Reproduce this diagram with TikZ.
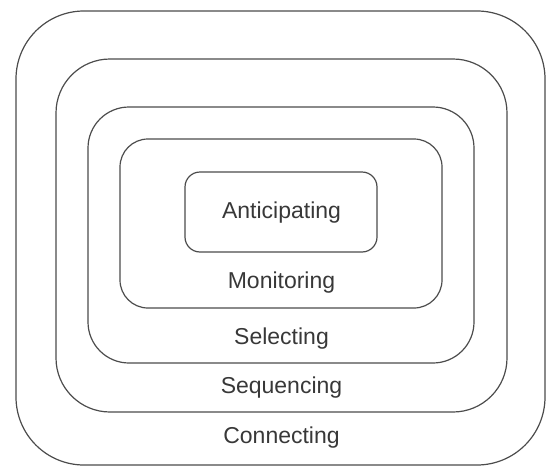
\documentclass[tikz,border=0pt]{standalone}
\usepackage{fontspec}
\setmainfont{Liberation Sans}
\usepackage{tikz}

\begin{document}
\begin{tikzpicture}[x=1pt,y=-1pt,
  ring/.style={draw=black!70, line width=1.2pt, inner sep=0pt, rectangle},
  level/.style={text=black!78, inner sep=0pt, anchor=base,
    font=\fontsize{23}{27}\selectfont}]
  \useasboundingbox (0,0) rectangle (549,466);
  % nested rounded boxes, outside in
  \node [ring, rounded corners=68pt, minimum width=529pt, minimum height=454pt] (connect) at (280.5,238) {};
  \node [ring, rounded corners=54pt, minimum width=451pt, minimum height=353pt] (sequence) at (281.5,235.5) {};
  \node [ring, rounded corners=41pt, minimum width=386pt, minimum height=256pt] (select) at (281,235) {};
  \node [ring, rounded corners=28pt, minimum width=322pt, minimum height=169pt] (monitor) at (281,223.5) {};
  \node [ring, rounded corners=15pt, minimum width=192pt, minimum height=80pt] (anticipate) at (281,212) {};
  % labels
  \node [level] (anticipatetext) at (281.5,218) {Anticipating};
  \node [level] (monitortext) at (281.5,288) {Monitoring};
  \node [level] (selecttext) at (281.5,344) {Selecting};
  \node [level] (sequencetext) at (281.5,393) {Sequencing};
  \node [level] (connecttext) at (281.5,443) {Connecting};
\end{tikzpicture}
\end{document}
